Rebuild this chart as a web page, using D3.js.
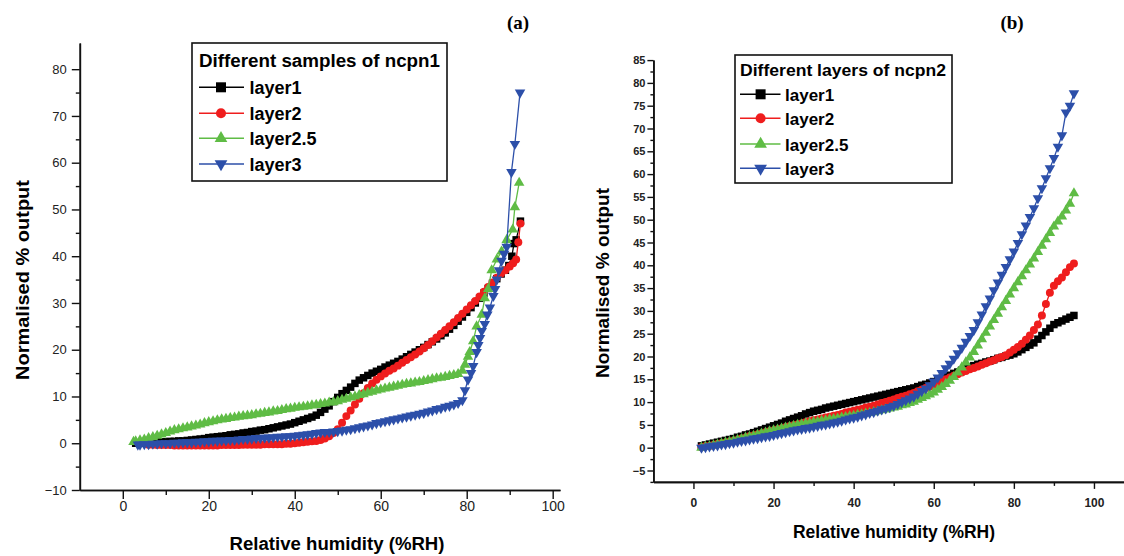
<!DOCTYPE html>
<html lang="en">
<head>
<meta charset="UTF-8">
<script src="https://d3js.org/d3.v7.min.js"></script>
<title>Normalised output vs relative humidity</title>
<style>
    body { margin: 0; background: #ffffff; }
    svg { display: block; font-family: "Liberation Sans", Arial, sans-serif; }
</style>
</head>
<body>
<svg id="chart" width="1124" height="556"></svg>
<script>
    // ---- panel (a): different samples of ncpn1 ----
    var rhA1 = [3,4,5,6,7,8,9,10,11,12,13,14,15,16,17,18,19,20,21,22,23,24,25,26,27,28,29,30,31,32,33,34,35,36,37,38,39,40,41,42,43,44,45,46,47,48,49,50,51,52,53,54,55,56,57,58,59,60,61,62,63,64,65,66,67,68,69,70,71,72,73,74,75,76,77,78,79,80,81,82,83,84,85,86,87,88,89,89.8,90.5,91,91.5,92.5];
    var outA1 = [0.0,0.1,0.1,0.1,0.2,0.2,0.3,0.3,0.4,0.4,
        0.5,0.5,0.6,0.7,0.8,0.9,1.0,1.2,1.3,1.4,
        1.5,1.6,1.8,1.9,2.0,2.2,2.3,2.5,2.6,2.8,
        2.9,3.1,3.3,3.5,3.7,3.9,4.1,4.4,4.7,5.0,
        5.3,5.6,6.0,6.6,7.3,8.0,8.9,9.8,10.6,11.3,
        12.0,12.8,13.5,14.0,14.5,15.0,15.4,15.8,16.3,16.7,
        17.1,17.5,18.0,18.5,19.0,19.5,20.0,20.5,21.1,21.7,
        22.3,23.0,23.6,24.4,25.2,26.1,27.0,28.0,29.0,30.0,
        31.0,32.1,33.1,34.2,35.2,36.2,
        37.0,38.0,40.0,42.7,43.5,47.5];

    var rhA2 = [6,7,8,9,10,11,12,13,14,15,16,17,18,19,20,21,22,23,24,25,26,27,28,29,30,31,32,33,34,35,36,37,38,39,40,41,42,43,44,45,46,47,48,49,50,51,52,53,54,55,56,57,58,59,60,61,62,63,64,65,66,67,68,69,70,71,72,73,74,75,76,77,78,79,80,81,82,83,84,85,86,87,88,89,90,90.8,91.5,92,92.5];
    var outA2 = [-0.3,-0.3,-0.4,-0.4,-0.4,-0.4,-0.5,-0.5,-0.5,-0.5,
        -0.5,-0.5,-0.5,-0.5,-0.5,-0.5,-0.5,-0.4,-0.4,-0.4,
        -0.4,-0.4,-0.3,-0.3,-0.3,-0.3,-0.3,-0.2,-0.2,-0.2,
        -0.2,-0.2,-0.1,-0.1,0.0,0.1,0.2,0.3,0.4,0.5,
        0.7,1.0,1.5,2.2,3.0,4.4,5.8,7.0,8.3,9.5,
        10.7,11.8,12.8,13.6,14.3,14.9,15.5,16.0,16.6,17.2,
        17.8,18.4,19.0,19.6,20.3,21.0,21.8,22.6,23.4,24.2,
        25.0,25.9,26.8,27.7,28.6,29.5,30.4,31.4,32.4,33.4,
        34.4,35.4,36.3,
        37.0,37.8,38.5,39.3,43.0,47.0];

    var rhA3 = [2.5,3,4,5,6,7,8,9,10,11,12,13,14,15,16,17,18,19,20,21,22,23,24,25,26,27,28,29,30,31,32,33,34,35,36,37,38,39,40,41,42,43,44,45,46,47,48,49,50,51,52,53,54,55,56,57,58,59,60,61,62,63,64,65,66,67,68,69,70,71,72,73,74,75,76,77,78,79,79.6,80.3,80.7,81.5,82.3,83.5,84.2,85,85.8,87,88.1,89.3,90.7,91.2,92.2];
    var outA3 = [0.3,
        0.4,0.6,0.8,1.1,1.3,1.6,1.9,2.2,2.5,2.8,
        3.0,3.2,3.4,3.6,3.8,4.0,4.3,4.5,4.7,4.9,
        5.1,5.2,5.4,5.5,5.7,5.8,5.9,6.0,6.2,6.3,
        6.5,6.6,6.8,6.9,7.1,7.3,7.4,7.6,7.7,7.8,
        7.9,8.1,8.2,8.4,8.5,8.7,8.8,9.0,9.3,9.5,
        9.8,10.0,10.3,10.5,10.8,11.0,11.3,11.5,11.7,11.9,
        12.1,12.3,12.5,12.7,12.8,13.0,13.1,13.3,13.5,13.7,
        13.9,14.0,14.2,14.4,14.6,14.8,15.5,
        16.8,18.5,19.5,21.8,25.0,27.5,31.0,33.0,37.0,39.3,41.0,43.5,45.7,50.5,55.7];

    var rhA4 = [3.5,4,5,6,7,8,9,10,11,12,13,14,15,16,17,18,19,20,21,22,23,24,25,26,27,28,29,30,31,32,33,34,35,36,37,38,39,40,41,42,43,44,45,46,47,48,49,50,51,52,53,54,55,56,57,58,59,60,61,62,63,64,65,66,67,68,69,70,71,72,73,74,75,76,77,78,79,79.6,80.3,81,81.5,82.3,82.7,83.1,83.5,84.2,84.8,85.4,86.2,86.6,87,87.5,88.1,88.7,89.3,90.4,91.2,92.4];
    var outA4 = [-0.3,
        -0.3,-0.2,-0.2,-0.1,-0.1,0.0,0.0,0.0,0.1,0.1,
        0.2,0.2,0.2,0.3,0.3,0.4,0.4,0.5,0.5,0.6,
        0.6,0.7,0.7,0.8,0.9,0.9,1.0,1.1,1.1,1.2,
        1.2,1.3,1.4,1.4,1.5,1.5,1.6,1.7,1.8,1.9,
        2.0,2.2,2.3,2.4,2.4,2.5,2.6,2.7,2.9,3.0,
        3.2,3.4,3.6,3.8,4.0,4.3,4.5,4.7,4.9,5.1,
        5.3,5.5,5.7,5.9,6.1,6.3,6.5,6.8,7.0,7.3,
        7.5,7.8,8.0,8.3,8.6,9.2,
        11.3,13.6,15.0,16.5,19.5,21.0,22.5,24.0,25.5,27.5,29.0,31.5,33.0,35.0,37.0,39.0,40.5,42.0,58.0,64.0,75.0];

    // ---- panel (b): different layers of ncpn2 (same RH steps for all layers) ----
    var rhB = [2,3,4,5,6,7,8,9,10,11,12,13,14,15,16,17,18,19,20,21,22,23,24,25,26,27,28,29,30,31,32,33,34,35,36,37,38,39,40,41,42,43,44,45,46,47,48,49,50,51,52,53,54,55,56,57,58,59,60,61,62,63,64,65,66,67,68,69,70,71,72,73,74,75,76,77,78,79,80,81,82,83,84,85,86,87,88,89,90,91,92,93,94,95];
    var outB1 = [0.4,0.6,0.8,1.0,1.2,1.4,1.6,1.8,2.0,2.3,
        2.5,2.8,3.0,3.3,3.6,3.9,4.2,4.5,4.8,5.1,
        5.4,5.8,6.1,6.4,6.7,7.0,7.4,7.7,8.0,8.2,
        8.4,8.7,8.9,9.1,9.3,9.5,9.7,9.9,10.1,10.3,
        10.5,10.7,10.9,11.1,11.3,11.5,11.7,11.9,12.1,12.3,
        12.5,12.7,12.9,13.1,13.4,13.7,13.9,14.2,14.5,14.9,
        15.2,15.6,15.9,16.3,16.6,17.0,17.3,17.7,18.0,18.3,
        18.5,18.8,19.0,19.3,19.6,19.8,20.1,20.3,20.6,21.0,
        21.5,22.0,22.5,23.0,23.8,24.6,25.4,26.2,27.0,27.4,
        27.8,28.2,28.6,29.0];
    var outB2 = [0.1,0.3,0.4,0.6,0.8,1.0,1.1,1.3,1.5,1.7,
        2.0,2.2,2.5,2.7,2.9,3.1,3.4,3.6,3.8,4.0,
        4.2,4.5,4.7,4.9,5.1,5.3,5.6,5.8,6.0,6.2,
        6.4,6.6,6.8,7.0,7.2,7.4,7.7,7.9,8.1,8.3,
        8.5,8.8,9.0,9.2,9.5,9.8,10.0,10.3,10.6,10.9,
        11.2,11.4,11.7,12.0,12.4,12.7,13.1,13.4,13.8,14.2,
        14.6,15.0,15.4,15.8,16.1,16.5,16.8,17.2,17.5,17.8,
        18.2,18.5,18.9,19.2,19.6,19.9,20.3,20.9,21.5,22.1,
        22.8,23.7,24.6,25.8,27.0,29.0,31.5,34.0,35.5,36.5,
        37.3,38.5,39.6,40.4];
    var outB3 = [0.0,0.2,0.3,0.5,0.7,0.9,1.1,1.3,1.5,1.7,
        1.9,2.2,2.4,2.6,2.8,3.1,3.3,3.6,3.8,4.0,
        4.2,4.4,4.6,4.8,5.0,5.1,5.3,5.4,5.6,5.7,
        5.9,6.0,6.2,6.3,6.4,6.6,6.7,6.9,7.0,7.2,
        7.3,7.5,7.6,7.8,8.0,8.2,8.4,8.6,8.8,9.0,
        9.3,9.5,9.8,10.1,10.5,10.9,11.3,11.7,12.1,12.7,
        13.3,14.0,14.7,15.5,16.5,17.6,18.7,19.8,21.0,22.4,
        23.8,25.2,26.6,28.0,29.4,30.8,32.2,33.6,35.0,36.3,
        37.6,38.9,40.2,41.5,42.9,44.3,45.7,47.1,48.5,49.6,
        50.7,52.0,53.5,55.8];
    var outB4 = [0.0,0.1,0.3,0.4,0.5,0.7,0.8,1.0,1.1,1.3,
        1.5,1.6,1.8,2.0,2.1,2.3,2.5,2.6,2.8,3.0,
        3.2,3.4,3.6,3.8,4.0,4.1,4.3,4.4,4.6,4.8,
        5.0,5.1,5.3,5.5,5.7,5.9,6.2,6.4,6.6,6.8,
        7.1,7.3,7.6,7.8,8.1,8.4,8.6,8.9,9.2,9.6,
        10.0,10.4,10.8,11.2,11.8,12.4,13.0,13.7,14.5,15.4,
        16.4,17.4,18.4,19.5,20.7,21.9,23.2,24.5,25.8,27.5,
        29.2,31.0,32.7,34.5,36.2,37.9,39.6,41.3,43.0,44.9,
        46.8,48.7,50.6,52.5,54.7,56.9,59.1,61.3,63.5,66.0,
        68.5,73.5,75.0,77.7];

    // series names and tick values
    var layerNames = ["layer1", "layer2", "layer2.5", "layer3"];
    var ticksAx = [0, 20, 40, 60, 80, 100];
    var ticksAxMinor = [10, 30, 50, 70, 90];
    var ticksAy = [-10, 0, 10, 20, 30, 40, 50, 60, 70, 80];
    var ticksAyMinor = [-5, 5, 15, 25, 35, 45, 55, 65, 75];
    var ticksBx = [0, 20, 40, 60, 80, 100];
    var ticksBxMinor = [10, 30, 50, 70, 90];
    var ticksBy = [-5, 0, 5, 10, 15, 20, 25, 30, 35, 40, 45, 50, 55, 60, 65, 70, 75, 80, 85];
    var ticksByMinor = [-7.5, -2.5, 2.5, 7.5, 12.5, 17.5, 22.5, 27.5, 32.5, 37.5, 42.5, 47.5, 52.5, 57.5, 62.5, 67.5, 72.5, 77.5, 82.5];

    // look of the four layers
    var colors = ["#000000", "#ef1d1d", "#5fbc45", "#2c4fa9"];
    var shapes = [d3.symbolSquare, d3.symbolCircle, d3.symbolTriangle, d3.symbolTriangle];
    var turns = [0, 0, 0, 180];
    var markSize = [56, 50, 48, 48];
    var legendSize = [100, 80, 70, 70];

    var svg = d3.select("#chart");

    function drawPanel(p) {
        var x = d3.scaleLinear().domain(p.xDomain).range(p.xRange);
        var y = d3.scaleLinear().domain(p.yDomain).range(p.yRange);
        var g = svg.append("g");

        // minor ticks first, then the major axes on top
        g.append("g")
            .attr("transform", "translate(0," + p.yRange[0] + ")")
            .call(d3.axisBottom(x).tickValues(p.xMinor).tickSize(p.xMinorLen).tickSizeOuter(0).tickFormat(""));
        g.append("g")
            .attr("transform", "translate(" + p.xRange[0] + ",0)")
            .call(d3.axisLeft(y).tickValues(p.yMinor).tickSize(p.yMinorLen).tickSizeOuter(0).tickFormat(""));

        var ax = g.append("g")
            .attr("class", "eje")
            .attr("transform", "translate(0," + p.yRange[0] + ")")
            .call(d3.axisBottom(x).tickValues(p.xTicks).tickSize(p.xTickLen).tickSizeOuter(0).tickPadding(p.xPad));
        var ay = g.append("g")
            .attr("class", "eje")
            .attr("transform", "translate(" + p.xRange[0] + ",0)")
            .call(d3.axisLeft(y).tickValues(p.yTicks).tickSize(p.yTickLen).tickSizeOuter(0).tickPadding(p.yPad));

        g.selectAll(".domain").attr("stroke", "#111").attr("stroke-width", 1.6);
        g.selectAll(".tick line").attr("stroke", "#111").attr("stroke-width", 1.4);
        ax.selectAll("text").attr("font-size", p.xFont).attr("font-weight", p.tickWeight).attr("fill", "#222");
        ay.selectAll("text").attr("font-size", p.yFont).attr("font-weight", p.tickWeight).attr("fill", "#222");

        // curves with their markers
        p.series.forEach(function (s, i) {
            var pts = s.rh.map(function (d, j) { return [d, s.out[j]]; });
            g.append("path")
                .datum(pts)
                .attr("fill", "none")
                .attr("stroke", colors[i])
                .attr("stroke-width", 1.3)
                .attr("d", d3.line().x(function (d) { return x(d[0]); }).y(function (d) { return y(d[1]); }));
            g.append("g").selectAll("path")
                .data(pts)
                .enter().append("path")
                .attr("transform", function (d) { return "translate(" + x(d[0]) + "," + y(d[1]) + ") rotate(" + turns[i] + ")"; })
                .attr("d", d3.symbol().type(shapes[i]).size(markSize[i]))
                .attr("fill", colors[i]);
        });

        // axis titles
        g.append("text")
            .attr("x", p.xTitle[0]).attr("y", p.xTitle[1])
            .attr("text-anchor", "middle")
            .attr("font-size", 18).attr("font-weight", "bold")
            .attr("textLength", p.xTitle[2]).attr("lengthAdjust", "spacingAndGlyphs")
            .text("Relative humidity (%RH)");
        g.append("text")
            .attr("transform", "translate(" + p.yTitle[0] + "," + p.yTitle[1] + ") rotate(-90)")
            .attr("text-anchor", "middle")
            .attr("font-size", 18).attr("font-weight", "bold")
            .attr("textLength", p.yTitle[2]).attr("lengthAdjust", "spacingAndGlyphs")
            .text("Normalised % output");

        // panel letter
        g.append("text")
            .attr("x", p.letter[0]).attr("y", p.letter[1])
            .attr("text-anchor", "middle")
            .attr("font-family", "'Liberation Serif', 'Times New Roman', serif")
            .attr("font-size", 19).attr("font-weight", "bold")
            .text(p.letter[2]);

        // legend
        var lg = p.legend;
        g.append("rect")
            .attr("x", lg.box[0]).attr("y", lg.box[1])
            .attr("width", lg.box[2]).attr("height", lg.box[3])
            .attr("fill", "#fff").attr("stroke", "#111").attr("stroke-width", 1.6);
        g.append("text")
            .attr("x", lg.textX0).attr("y", lg.titleY)
            .attr("font-size", lg.titleFont).attr("font-weight", "bold")
            .attr("textLength", lg.titleLen).attr("lengthAdjust", "spacingAndGlyphs")
            .text(lg.title);
        layerNames.forEach(function (name, i) {
            var cy = lg.rows[i];
            g.append("line")
                .attr("x1", lg.line[0]).attr("x2", lg.line[1])
                .attr("y1", cy).attr("y2", cy)
                .attr("stroke", colors[i]).attr("stroke-width", 1.6);
            g.append("path")
                .attr("transform", "translate(" + lg.mark + "," + cy + ") rotate(" + turns[i] + ")")
                .attr("d", d3.symbol().type(shapes[i]).size(legendSize[i]))
                .attr("fill", colors[i]);
            g.append("text")
                .attr("x", lg.textX).attr("y", cy + 6.5)
                .attr("font-size", lg.rowFont).attr("font-weight", "bold")
                .text(name);
        });
    }

    drawPanel({
        xDomain: [-10, 101.7], xRange: [79.8, 560],
        yDomain: [-10, 85.6], yRange: [490, 43],
        xTicks: ticksAx, xMinor: ticksAxMinor, yTicks: ticksAy, yMinor: ticksAyMinor,
        xTickLen: 9, xMinorLen: 5, yTickLen: 8, yMinorLen: 4,
        xPad: 2, yPad: 5, xFont: 14, yFont: 13, tickWeight: "normal",
        series: [
            { rh: rhA1, out: outA1 },
            { rh: rhA2, out: outA2 },
            { rh: rhA3, out: outA3 },
            { rh: rhA4, out: outA4 }
        ],
        xTitle: [337, 550, 215], yTitle: [28.5, 280, 200],
        letter: [518, 29, "(a)"],
        legend: {
            box: [192, 43, 255, 138], title: "Different samples of ncpn1",
            textX0: 199, titleY: 67, titleFont: 18, titleLen: 241,
            rows: [87.3, 113.3, 138.3, 164], line: [199, 244], mark: 221, textX: 249.5, rowFont: 18
        }
    });

    drawPanel({
        xDomain: [-10, 107.5], xRange: [653.4, 1124],
        yDomain: [-7.5, 85], yRange: [481.9, 60.1],
        xTicks: ticksBx, xMinor: ticksBxMinor, yTicks: ticksBy, yMinor: ticksByMinor,
        xTickLen: 7, xMinorLen: 4, yTickLen: 6, yMinorLen: 3,
        xPad: 10, yPad: 2, xFont: 12, yFont: 11, tickWeight: "bold",
        series: [
            { rh: rhB, out: outB1 },
            { rh: rhB, out: outB2 },
            { rh: rhB, out: outB3 },
            { rh: rhB, out: outB4 }
        ],
        xTitle: [894, 538, 202], yTitle: [608.5, 283, 190],
        letter: [1012, 29, "(b)"],
        legend: {
            box: [735, 55, 217, 128], title: "Different layers of ncpn2",
            textX0: 740, titleY: 76, titleFont: 17, titleLen: 206,
            rows: [94.3, 118.3, 144, 168.3], line: [740, 780.5], mark: 760.6, textX: 785, rowFont: 17
        }
    });
</script>
</body>
</html>
